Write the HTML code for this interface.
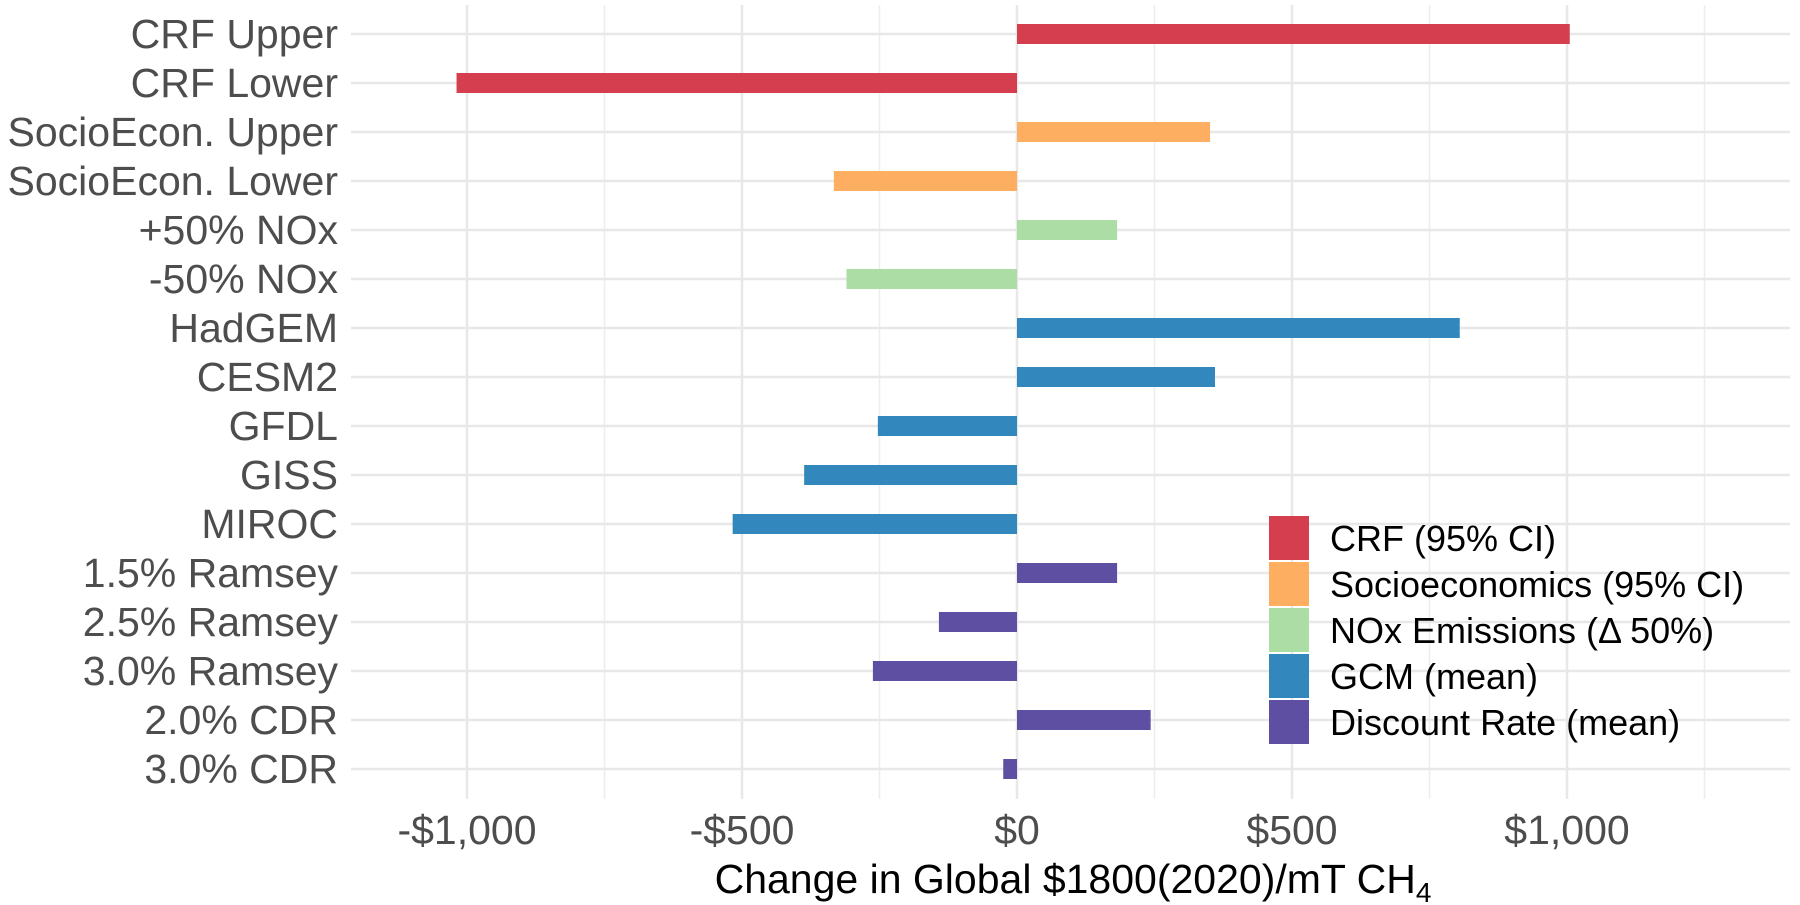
<!DOCTYPE html>
<html><head><meta charset="utf-8"><style>
body{margin:0;background:#fff;}
svg{display:block;font-family:"Liberation Sans",Arial,sans-serif;}
</style></head><body>
<svg id="chart" width="1800" height="905" viewBox="0 0 1800 905"></svg>
<script>
const categories=["CRF Upper","CRF Lower","SocioEcon. Upper","SocioEcon. Lower","+50% NOx","-50% NOx","HadGEM","CESM2","GFDL","GISS","MIROC","1.5% Ramsey","2.5% Ramsey","3.0% Ramsey","2.0% CDR","3.0% CDR"];
const values=[1005,-1019,351,-333,182,-310,805,360,-253,-387,-517,182,-142,-262,243,-25];
const groups=[0,0,1,1,2,2,3,3,3,3,3,4,4,4,4,4];
const groupNames=["CRF (95% CI)","Socioeconomics (95% CI)","NOx Emissions (Δ 50%)","GCM (mean)","Discount Rate (mean)"];
const groupColors=["#D53E4F","#FDAE61","#ABDDA4","#3288BD","#5E4FA2"];
const tickValues=[-1000,-500,0,500,1000];
const tickLabels=["-$1,000","-$500","$0","$500","$1,000"];
const minorValues=[-750,-250,250,750,1250];

const NS="http://www.w3.org/2000/svg";
const svg=document.getElementById('chart');
const X0=1017,KX=0.55,Y0=34,DY=49,PL=351,PR=1790,PT=5,PB=799;
const xs=v=>X0+KX*v;
const ys=i=>Y0+i*DY;
function mk(tag,attrs,parent){const e=document.createElementNS(NS,tag);for(const k in attrs)e.setAttribute(k,attrs[k]);(parent||svg).appendChild(e);return e;}

const grid=mk('g',{});


minorValues.forEach(v=>{const l=mk('line',{x1:xs(v),x2:xs(v),y1:PT,y2:PB,stroke:'#ededed','stroke-width':1.5},grid);

});
tickValues.forEach(v=>{const l=mk('line',{x1:xs(v),x2:xs(v),y1:PT,y2:PB,stroke:'#e8e8e8','stroke-width':2.5},grid);

});
categories.forEach((c,i)=>{const l=mk('line',{x1:PL,x2:PR,y1:ys(i),y2:ys(i),stroke:'#e8e8e8','stroke-width':2.5},grid);

});

categories.forEach((c,i)=>{
 const v=values[i];
 const r=mk('rect',{x:Math.min(xs(0),xs(v)),y:ys(i)-10,width:Math.abs(xs(v)-xs(0)),height:20,fill:groupColors[groups[i]]});
 
 
 const t=mk('text',{x:338,y:ys(i)+14,'text-anchor':'end','font-size':41,fill:'#4d4d4d'});
 t.textContent=c;
 
 
});
tickValues.forEach((v,i)=>{
 const t=mk('text',{x:xs(v),y:844,'text-anchor':'middle','font-size':41,fill:'#4d4d4d'});
 t.textContent=tickLabels[i];
 
 
});
const xt=mk('text',{x:1073,y:893,'text-anchor':'middle','font-size':41,fill:'#000'});
xt.innerHTML='Change in Global $1800(2020)/mT CH<tspan font-size="28" dy="9">4</tspan>';



const lg=mk('g',{});


groupNames.forEach((n,i)=>{
 const y=515+i*46;
 const r=mk('rect',{x:1269,y:y+1,width:40,height:44,fill:groupColors[i]},lg);
 
 
 const t=mk('text',{x:1330,y:y+36,'font-size':36,fill:'#000'},lg);
 t.textContent=n;
 
 
});
</script>
</body></html>
